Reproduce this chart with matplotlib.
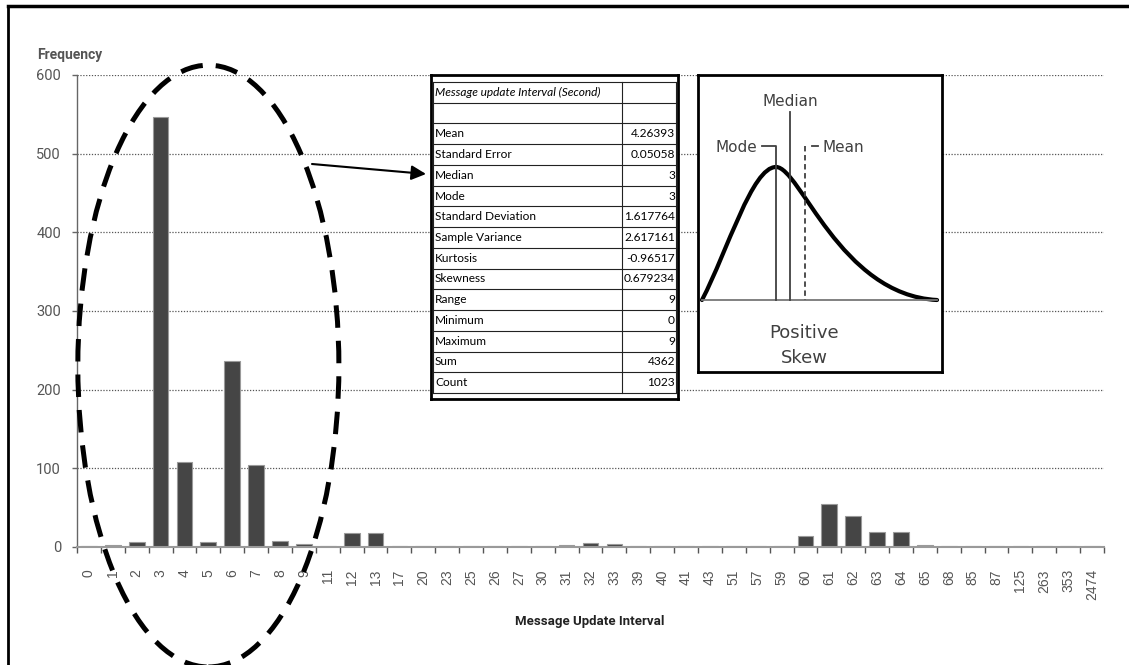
import numpy as np
import matplotlib.pyplot as plt
from matplotlib.patches import Ellipse, PathPatch
from matplotlib.path import Path
from matplotlib.lines import Line2D

# histogram of message update intervals
intervals = ['0', '1', '2', '3', '4', '5', '6', '7', '8', '9',
             '11', '12', '13', '17', '20', '23', '25', '26', '27', '30',
             '31', '32', '33', '39', '40', '41', '43', '51', '57', '59',
             '60', '61', '62', '63', '64', '65',
             '68', '85', '87', '125', '263', '353', '2474']
frequency = [1, 3, 6, 547, 108, 6, 236, 104, 8, 4,
             1, 18, 18, 1, 1, 1, 1, 1, 1, 1,
             3, 5, 4, 1, 1, 1, 1, 1, 1, 1,
             14, 55, 40, 19, 19, 2,
             1, 1, 1, 1, 1, 1, 1]

# descriptive statistics table
stat_names = ['Mean', 'Standard Error', 'Median', 'Mode', 'Standard Deviation',
              'Sample Variance', 'Kurtosis', 'Skewness', 'Range', 'Minimum',
              'Maximum', 'Sum', 'Count']
stat_values = ['4.26393', '0.05058', '3', '3', '1.617764', '2.617161', '-0.96517',
               '0.679234', '9', '0', '9', '4362', '1023']

W, H = 1129, 665


def rect(x0, y0, x1, y1):
    # pixel box (top-left origin) -> figure fraction
    return [x0 / W, 1 - y1 / H, (x1 - x0) / W, (y1 - y0) / H]


fig = plt.figure(figsize=(W / 100, H / 100), dpi=100)
fig.patch.set_facecolor('white')

# border of the original screenshot (left and top only)
fig.add_artist(Line2D([8 / W, 8 / W], [0, 1 - 6 / H], color='black', lw=2))
fig.add_artist(Line2D([8 / W, 1], [1 - 6 / H, 1 - 6 / H], color='black', lw=2.5))

ax = fig.add_axes(rect(77, 75, 1104, 547))
x = np.arange(len(intervals))
ax.bar(x, frequency, width=0.66, color='#454545', edgecolor='#9a9a9a', linewidth=0.8, zorder=2)
ax.set_xlim(-0.5, len(intervals) - 0.5)
ax.set_ylim(0, 600)
ax.set_yticks(range(0, 601, 100))
ax.set_xticks(x)
ax.set_xticklabels(intervals, rotation=90, family='Liberation Sans', fontsize=10, color='#555555')
ax.set_xticks(np.arange(len(intervals) + 1) - 0.5, minor=True)
ax.tick_params(axis='x', which='major', length=0, pad=16)
ax.tick_params(axis='x', which='minor', length=4.5, width=1, color='#555555')
ax.tick_params(axis='y', length=3.6, width=1, color='#666666', pad=8,
               labelsize=10.5, labelcolor='#555555')
for lab in ax.get_yticklabels():
    lab.set_family('Roboto')
ax.yaxis.grid(True, linestyle=(0, (1, 1.3)), color='#555555', lw=0.9)
ax.set_axisbelow(True)
for s in ['top', 'right']:
    ax.spines[s].set_visible(False)
ax.spines['left'].set_color('#666666')
ax.spines['left'].set_linewidth(1)
ax.spines['bottom'].set_color('#9a9a9a')
ax.spines['bottom'].set_linewidth(1.5)

fig.text(37 / W, 1 - 55 / H, 'Frequency', ha='left', va='center', family='Roboto',
         fontweight='bold', fontsize=10, color='#555555')
fig.text(590 / W, 1 - 622 / H, 'Message Update Interval', ha='center', va='center',
         family='Roboto', fontweight='bold', fontsize=9.5, color='#222222')

# dashed ellipse around the 0-9 s group
ax.add_patch(Ellipse((5, 230), 10.93, 765, fill=False, ec='black', lw=3.6,
                     ls=(0, (4.5, 2.6)), clip_on=False, zorder=5))

# arrow from the ellipse to the table
ax.annotate('', xy=(426, H - 174), xytext=(312, H - 164), xycoords='figure pixels',
            textcoords='figure pixels', annotation_clip=False,
            arrowprops=dict(arrowstyle='-|>', color='black', lw=1.5,
                            mutation_scale=22, shrinkA=0, shrinkB=0))

# statistics table
tax = fig.add_axes(rect(431, 75, 678, 399))
tax.set_xlim(431, 678)
tax.set_ylim(399, 75)
tax.set_xticks([])
tax.set_yticks([])
tax.set_facecolor('white')
for s in tax.spines.values():
    s.set_linewidth(2)
    s.set_color('black')
row_edges = np.linspace(82, 393, len(stat_names) + 3)
for yy in row_edges:
    tax.plot([433, 676], [yy, yy], color='#222222', lw=0.8)
for xx in [433, 622, 676]:
    tax.plot([xx, xx], [row_edges[0], row_edges[-1]], color='#222222', lw=0.8)
centers = (row_edges[:-1] + row_edges[1:]) / 2
tax.text(435, centers[0], 'Message update Interval (Second)', ha='left', va='center',
         family='Lato', style='italic', fontsize=8.6, color='black')
for name, val, yy in zip(stat_names, stat_values, centers[2:]):
    tax.text(435, yy, name, ha='left', va='center', family='Lato', fontsize=8.6, color='black')
    tax.text(675, yy, val, ha='right', va='center', family='Lato', fontsize=8.6, color='black')

# positive skew sketch
sax = fig.add_axes(rect(698, 75, 942, 372))
sax.set_xlim(698, 942)
sax.set_ylim(372, 75)
sax.set_xticks([])
sax.set_yticks([])
sax.set_facecolor('white')
for s in sax.spines.values():
    s.set_linewidth(2)
    s.set_color('black')
grey = '#404040'
sax.plot([702, 937], [300, 300], color='#777777', lw=1.3)
sax.plot([762, 776, 776], [146, 146, 300], color=grey, lw=1.3)
sax.plot([790, 790], [112, 300], color=grey, lw=1.3)
sax.plot([805, 805], [146, 300], color=grey, lw=1.3, ls=(0, (3, 2)))
sax.plot([812, 818], [146, 146], color=grey, lw=1.3)
curve = Path([(702, 300), (728, 250), (752, 167), (776, 167),
              (800, 167), (840, 295), (937, 300)],
             [Path.MOVETO, Path.CURVE4, Path.CURVE4, Path.CURVE4,
              Path.CURVE4, Path.CURVE4, Path.CURVE4])
sax.add_patch(PathPatch(curve, fill=False, ec='black', lw=3, capstyle='round'))
skw = dict(family='DejaVu Sans', color=grey)
sax.text(790, 101, 'Median', ha='center', va='center', fontsize=11, **skw)
sax.text(757, 147, 'Mode', ha='right', va='center', fontsize=11, **skw)
sax.text(822, 147, 'Mean', ha='left', va='center', fontsize=11, **skw)
sax.text(804, 333, 'Positive', ha='center', va='center', fontsize=13, **skw)
sax.text(804, 358, 'Skew', ha='center', va='center', fontsize=13, **skw)

fig.savefig('out.png', dpi=100, facecolor='white')
